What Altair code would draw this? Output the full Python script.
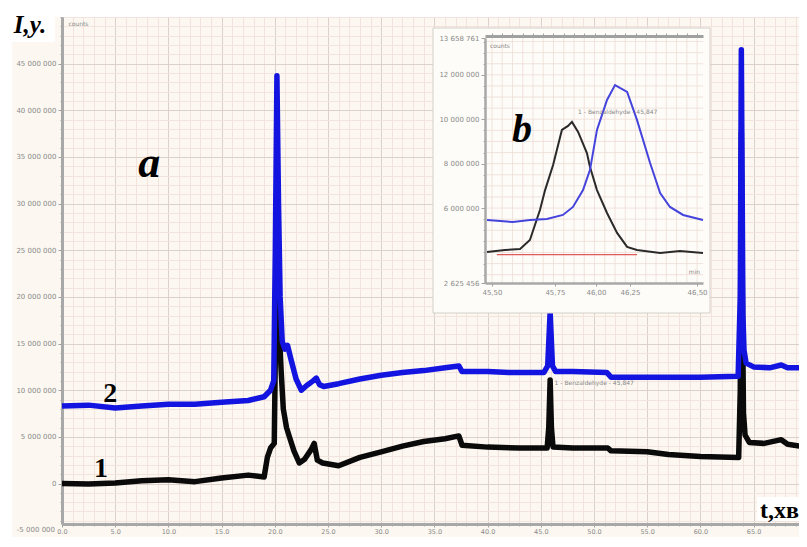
import altair as alt
import pandas as pd

# ---------------- main chromatogram: time (min) and signal (millions of counts) ----------------
t_blue = [0, 2.5, 5, 7.5, 10, 12.5, 15, 17.5, 19.0, 19.6, 19.9, 20.05, 20.2, 20.35, 20.5, 20.7,
          20.95, 21.2, 21.5, 22.0, 22.5, 23.0, 23.6, 23.9, 24.2, 24.6, 26, 28, 30, 32, 34, 36,
          37.3, 37.6, 40, 42, 45.3, 45.65, 45.88, 46.1, 46.4, 48, 51.2, 51.6, 55, 60, 63.55,
          63.75, 63.85, 64.0, 64.1, 64.3, 65, 66.5, 67.6, 68.2, 70]
v_blue = [8.3, 8.4, 8.1, 8.3, 8.5, 8.5, 8.7, 8.9, 9.3, 10.0, 11.0, 25.0, 43.7, 30.0, 20.0, 15.2,
          14.4, 14.8, 13.4, 11.2, 10.0, 10.5, 11.0, 11.3, 10.6, 10.4, 10.7, 11.2, 11.6, 11.9, 12.1, 12.4,
          12.6, 12.0, 12.0, 11.9, 11.9, 12.6, 18.4, 12.6, 12.0, 12.0, 11.9, 11.4, 11.4, 11.4, 11.5,
          20.0, 46.5, 18.0, 14.3, 12.9, 12.5, 12.4, 12.7, 12.4, 12.4]

t_black = [0, 2.5, 5, 7.5, 10, 12.5, 15, 17.5, 19.0, 19.3, 19.6, 19.95, 20.2, 20.4, 20.6, 20.8,
           21.1, 21.4, 21.8, 22.3, 22.8, 23.4, 23.7, 24.0, 24.5, 26, 28, 30, 32, 34, 36, 37.3,
           37.6, 40, 43, 45.6, 45.75, 45.88, 46.0, 46.15, 48, 51.3, 51.6, 55, 57, 60, 63.6,
           63.75, 63.85, 63.95, 64.05, 64.2, 64.6, 66, 67.6, 68.2, 70]
v_black = [0.0, -0.05, 0.05, 0.3, 0.4, 0.2, 0.6, 0.9, 0.7, 2.8, 3.8, 4.3, 28.0, 17.0, 12.0, 8.0,
           6.0, 4.9, 3.5, 2.2, 2.6, 3.6, 4.3, 2.5, 2.2, 1.9, 2.8, 3.4, 4.0, 4.5, 4.8, 5.1,
           4.1, 3.9, 3.8, 3.8, 6.0, 11.1, 6.0, 3.9, 3.8, 3.8, 3.5, 3.4, 3.1, 2.9, 2.8,
           10.0, 37.6, 20.0, 7.6, 5.2, 4.4, 4.3, 4.7, 4.2, 3.9]

# ---------------- inset (b): zoom on the 45.9 min peak ----------------
ti_black = [45.476, 45.563, 45.637, 45.685, 45.734, 45.759, 45.798, 45.841, 45.871, 45.890, 45.920,
            45.963, 45.978, 46.012, 46.061, 46.110, 46.159, 46.207, 46.32, 46.417, 46.529]
vi_black = [4.02, 4.11, 4.16, 4.56, 5.91, 6.81, 7.94, 9.52, 9.70, 9.88, 9.43,
            8.48, 7.85, 6.81, 5.78, 4.88, 4.25, 4.11, 3.98, 4.07, 3.98]
ti_blue = [45.476, 45.602, 45.685, 45.768, 45.846, 45.895, 45.944, 45.978, 46.012, 46.061,
           46.100, 46.124, 46.159, 46.207, 46.271, 46.32, 46.368, 46.432, 46.529]
vi_blue = [5.46, 5.37, 5.46, 5.51, 5.69, 6.05, 6.81, 7.72, 9.52, 10.87,
           11.54, 11.41, 11.23, 9.97, 8.03, 6.68, 6.05, 5.69, 5.46]
red_baseline = {"t0": [45.524], "t1": [46.207], "v": [3.9e6]}

# ---------------- ticks ----------------
main_x_major = list(range(0, 70, 5))
main_x_minor = list(range(0, 70))
main_y_major = list(range(0, 50_000_000, 5_000_000))
main_y_minor = list(range(-4_000_000, 50_000_001, 1_000_000))
main_y_below = [-5_000_000]
inset_x_ticks = [45.5, 45.807, 46.007, 46.173, 46.5]
inset_x_labels = ["45,50", "45,75", "46,00", "46,25", "46,50"]
inset_y_labelled = [2625456, 6000000, 8000000, 10000000, 12000000, 13658761]
inset_y_minor = [3_000_000 + 500_000 * i for i in range(22)]
inset_grid_t = [round(45.5 + 0.05 * i, 2) for i in range(21)]
inset_grid_v = [3_000_000 + 500_000 * i for i in range(22)]

W, H = 737, 507
LABEL_FONT = "DejaVu Sans"
SERIF = "Liberation Serif"
LABEL_COLOR = "#8a8a8a"

xs_main = alt.Scale(domain=[0, 69.27], nice=False, zero=False)
ys_main = alt.Scale(domain=[-4.34e6, 50e6], nice=False, zero=False)
xs_in = alt.Scale(domain=[45.466, 46.529], range=[423, 641], nice=False, zero=False)
ys_in = alt.Scale(domain=[2625456, 13658761], range=[266, 21], nice=False, zero=False)

space_fmt = "replace(replace(format(datum.value, ',d'), ',', ' '), ',', ' ')"

common_lbl = dict(labelFont=LABEL_FONT, labelFontSize=7, labelColor=LABEL_COLOR, labelPadding=2,
                  labelOverlap=False, title=None)

main_x_minor_axis = alt.Axis(orient="bottom", values=main_x_minor, labels=False, grid=True,
                             gridColor="#f2e3dd", gridWidth=1, tickSize=2, tickColor="#a8a8a8",
                             domain=False, title=None)
main_y_minor_axis = alt.Axis(orient="left", values=main_y_minor, labels=False, grid=True,
                             gridColor="#f2e3dd", gridWidth=1, tickSize=2, tickColor="#a8a8a8",
                             domain=False, title=None)
main_x_major_axis = alt.Axis(orient="bottom", values=main_x_major, format=".1f", labelFlush=False,
                             grid=True, gridColor="#dbd1ca", gridWidth=1, tickSize=3,
                             tickColor="#a0a0a0", domainColor="#a8a8a8", domainWidth=3,
                             labelFont=LABEL_FONT, labelFontSize=6.5, labelColor=LABEL_COLOR,
                             labelPadding=1, labelOverlap=False, title=None)
main_y_major_axis = alt.Axis(orient="left", values=main_y_major, labelExpr=space_fmt,
                             grid=True, gridColor="#dbd1ca", gridWidth=1, tickSize=4,
                             tickColor="#a0a0a0", domainColor="#a8a8a8", domainWidth=3, **common_lbl)

one = pd.DataFrame({"k": [0]})

def panel(x0, x1, y0, y1, fill, stroke=None):
    kw = {"fill": fill}
    if stroke:
        kw.update(stroke=stroke, strokeWidth=1)
    return alt.Chart(one).mark_rect(**kw).encode(
        x=alt.value(x0), x2=alt.value(x1), y=alt.value(y0), y2=alt.value(y1))

blue_df = pd.DataFrame({"t": t_blue, "v": [v * 1e6 for v in v_blue]})
black_df = pd.DataFrame({"t": t_black, "v": [v * 1e6 for v in v_black]})

black_line = alt.Chart(black_df).mark_line(color="#0a0a0a", strokeWidth=5.5, strokeJoin="round").encode(
    x=alt.X("t:Q", scale=xs_main, axis=main_x_minor_axis),
    y=alt.Y("v:Q", scale=ys_main, axis=main_y_minor_axis),
)
blue_line = alt.Chart(blue_df).mark_line(color="#1414e0", strokeWidth=5.5, strokeJoin="round").encode(
    x=alt.X("t:Q", scale=xs_main, axis=main_x_major_axis),
    y=alt.Y("v:Q", scale=ys_main, axis=main_y_major_axis),
)

def main_text(df, **mk):
    return alt.Chart(df).mark_text(**mk).encode(
        x=alt.X("t:Q", scale=xs_main, axis=None),
        y=alt.Y("v:Q", scale=ys_main, axis=None),
        text="label:N",
    )

txt_a = main_text(pd.DataFrame({"t": [8.2], "v": [32.85e6], "label": ["a"]}),
                  font=SERIF, fontSize=44, fontWeight="bold", fontStyle="italic",
                  align="center", baseline="alphabetic", color="#000")
txt_nums = main_text(pd.DataFrame({"t": [4.54, 3.67], "v": [8.74e6, 0.70e6], "label": ["2", "1"]}),
                     font=SERIF, fontSize=28, fontWeight="bold",
                     align="center", baseline="alphabetic", color="#000")
txt_small = main_text(pd.DataFrame({"t": [0.6, 46.3], "v": [49.2e6, 10.8e6],
                                    "label": ["counts", "1 - Benzaldehyde - 45,847"]}),
                      font=LABEL_FONT, fontSize=6, align="left", baseline="middle", color="#888")
# lowest y label (-5 000 000) sits just under the visible axis range
txt_below = alt.Chart(pd.DataFrame({"v": main_y_below, "label": ["-5 000 000"]})).mark_text(
    font=LABEL_FONT, fontSize=7, align="right", baseline="middle", color=LABEL_COLOR).encode(
    x=alt.value(-7), y=alt.Y("v:Q", scale=ys_main, axis=None), text="label:N")

iy_label = alt.Chart(pd.DataFrame({"label": ["I,y."]})).mark_text(
    font=SERIF, fontSize=25, fontWeight="bold", fontStyle="italic", align="center",
    baseline="alphabetic", color="#000").encode(x=alt.value(-32), y=alt.value(16), text="label:N")
t_label = alt.Chart(pd.DataFrame({"label": ["t,хв"]})).mark_text(
    font=SERIF, fontSize=24, fontWeight="bold", align="left",
    baseline="alphabetic", color="#000").encode(x=alt.value(698), y=alt.value(501), text="label:N")

main = alt.layer(
    panel(-54, W, -9, 0, "#ffffff"),
    panel(-54, -50, -9, H + 20, "#ffffff"),
    panel(-54, -7, -9, 25, "#ffffff"),
    panel(695, W, 480, 504, "#ffffff"),
    black_line, blue_line,
    txt_a, txt_nums, txt_small, txt_below, iy_label, t_label,
).resolve_axis(x="independent", y="independent")

# ---------------- inset layers ----------------
in_x_axis = alt.Axis(
    orient="bottom", offset=-(H - 266), values=inset_x_ticks, grid=False,
    labelExpr="[" + ",".join("'%s'" % s for s in inset_x_labels) + "][indexof(["
              + ",".join(str(v) for v in inset_x_ticks) + "], datum.value)]",
    labelFlush=False, tickSize=3, tickColor="#a0a0a0",
    domainColor="#a8a8a8", domainWidth=2.5, zindex=1, **common_lbl,
)
in_top_axis = alt.Axis(
    orient="top", offset=-19, values=inset_grid_t, title=None, grid=False, labels=False,
    tickSize=3, tickColor="#a0a0a0", domainColor="#a0a0a0", domainWidth=3, zindex=1,
)
in_y_axis = alt.Axis(
    orient="left", offset=-423, values=inset_y_labelled, grid=False, labelExpr=space_fmt,
    tickSize=4, tickColor="#a0a0a0", domainColor="#a8a8a8", domainWidth=2.5, zindex=1, **common_lbl,
)
in_y_minor_axis = alt.Axis(
    orient="left", offset=-423, values=inset_y_minor, grid=False, labels=False, domain=False,
    tickSize=2, tickColor="#a8a8a8", zindex=1, title=None,
)

grid_v = alt.Chart(pd.DataFrame({"t": inset_grid_t})).mark_rule(color="#eddcd6", strokeWidth=0.8).encode(
    x=alt.X("t:Q", scale=xs_in, axis=None),
    y=alt.YDatum(2625456, scale=ys_in, axis=None),
    y2=alt.Y2Datum(13658761),
)
grid_h = alt.Chart(pd.DataFrame({"v": inset_grid_v})).mark_rule(color="#eddcd6", strokeWidth=0.8).encode(
    y=alt.Y("v:Q", scale=ys_in, axis=None),
    x=alt.XDatum(45.466, scale=xs_in, axis=None),
    x2=alt.X2Datum(46.529),
)
red_rule = alt.Chart(pd.DataFrame(red_baseline)).mark_rule(color="#e05a5a", strokeWidth=1.3).encode(
    x=alt.X("t0:Q", scale=xs_in, axis=None),
    x2="t1:Q",
    y=alt.Y("v:Q", scale=ys_in, axis=None),
)
in_black_df = pd.DataFrame({"t": ti_black, "v": [v * 1e6 for v in vi_black]})
in_blue_df = pd.DataFrame({"t": ti_blue, "v": [v * 1e6 for v in vi_blue]})
in_black = alt.Chart(in_black_df).mark_line(color="#2a2a2a", strokeWidth=2).encode(
    x=alt.X("t:Q", scale=xs_in, axis=in_x_axis),
    y=alt.Y("v:Q", scale=ys_in, axis=in_y_axis),
)
in_blue = alt.Chart(in_blue_df).mark_line(color="#4444dd", strokeWidth=2).encode(
    x=alt.X("t:Q", scale=xs_in, axis=in_top_axis),
    y=alt.Y("v:Q", scale=ys_in, axis=in_y_minor_axis),
)

def inset_text(df, **mk):
    return alt.Chart(df).mark_text(**mk).encode(
        x=alt.X("t:Q", scale=xs_in, axis=None),
        y=alt.Y("v:Q", scale=ys_in, axis=None),
        text="label:N",
    )

txt_b = inset_text(pd.DataFrame({"t": [45.646], "v": [8.98e6], "label": ["b"]}),
                   font=SERIF, fontSize=40, fontWeight="bold", fontStyle="italic",
                   align="center", baseline="alphabetic", color="#000")
txt_in_small = inset_text(pd.DataFrame({"t": [45.49, 45.92, 46.46], "v": [13.3e6, 10.33e6, 3.1e6],
                                        "label": ["counts", "1 - Benzaldehyde - 45,847", "min"]}),
                          font=LABEL_FONT, fontSize=6, align="left", baseline="middle", color="#888")

inset = alt.layer(
    panel(371, 648, 11, 296, "#fefcf8", "#d4cec8"),
    grid_v, grid_h, red_rule, in_black, in_blue, txt_b, txt_in_small,
).resolve_axis(x="independent", y="independent")

chart = alt.layer(main, inset).resolve_scale(x="independent", y="independent").properties(
    width=W, height=H,
    padding={"left": 54, "top": 9, "right": 0, "bottom": 13},
    autosize=alt.AutoSizeParams(type="none"),
    background="#fcf8f1",
).configure_view(strokeWidth=0)

chart.save("out.html", embed_options={"renderer": "svg", "actions": False})
